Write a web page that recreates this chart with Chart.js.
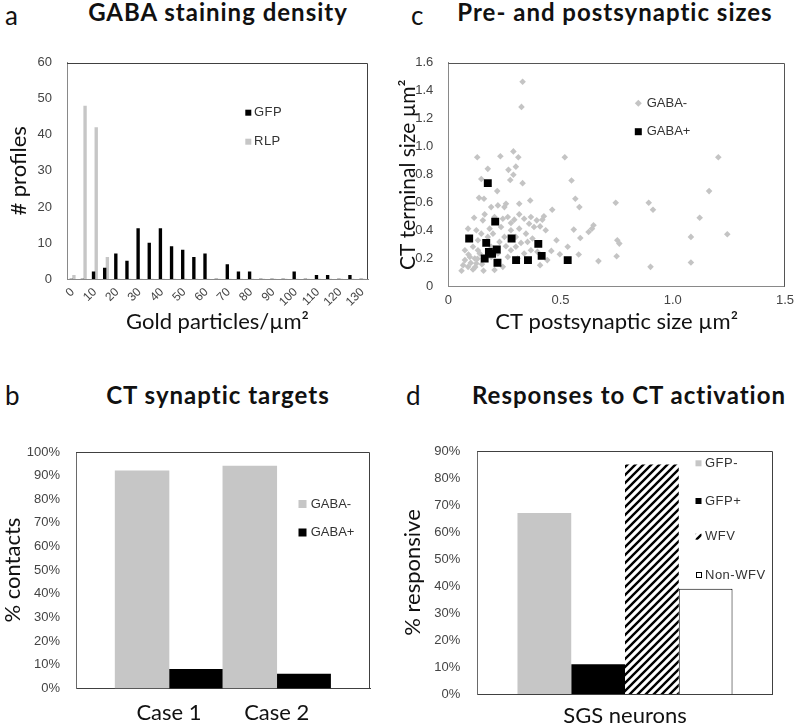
<!DOCTYPE html>
<html>
<head>
<meta charset="utf-8">
<script src="https://cdn.jsdelivr.net/npm/chart.js@4.4.1/dist/chart.umd.min.js"></script>
<style>
  html, body { margin:0; padding:0; background:#fff; }
  #page { position:relative; width:800px; height:723px; overflow:hidden; background:#fff; }
  canvas { position:absolute; }
  .lt { position:absolute; font:26px Lato, sans-serif; line-height:26px; color:#111; }
  .tt { position:absolute; font:bold 24px Lato, sans-serif; letter-spacing:1px; line-height:24px; color:#111; white-space:nowrap; transform:translateX(-50%); }
</style>
</head>
<body>
<div id="page">
  <div class="lt" style="left:5px;top:2px">a</div>
  <div class="tt" style="left:218px;top:0px">GABA staining density</div>
  <div class="lt" style="left:411px;top:2px">c</div>
  <div class="tt" style="left:615px;top:0px">Pre- and postsynaptic sizes</div>
  <div class="lt" style="left:5px;top:382px">b</div>
  <div class="tt" style="left:218px;top:383px">CT synaptic targets</div>
  <div class="lt" style="left:406px;top:382px">d</div>
  <div class="tt" style="left:629px;top:383px">Responses to CT activation</div>
  <canvas id="ca" width="400" height="300" style="left:0;top:40px"></canvas>
  <canvas id="cc" width="404" height="300" style="left:396px;top:40px"></canvas>
  <canvas id="cb" width="400" height="343" style="left:0;top:380px"></canvas>
  <canvas id="cd" width="400" height="343" style="left:400px;top:380px"></canvas>
</div>
<script>
// ---------- Panel a: GABA staining density histogram ----------
const histBins = [0,5,10,15,20,25,30,35,40,45,50,55,60,65,70,75,80,85,90,95,100,105,110,115,120,125,130];
const gfpCounts = [0,0,2,3,7,5,14,10,14,9,8,6,7,0,4,2,2,0,0,0,2,0,1,1,0,1,0];
const rlpCounts = [1,48,42,6,0,0,0,0,0,0,0,0,0,0,0,0,0,0,0,0,0,0,0,0,0,0,0];
const histYTicks = [0,10,20,30,40,50,60];

// ---------- Panel c: pre- and postsynaptic sizes ----------
const gabaNegX = [0.331,0.326,0.129,0.232,0.29,0.312,0.519,1.203,0.176,0.268,
  0.301,0.29,0.276,0.331,0.147,0.549,1.162,0.218,0.137,0.159,
  0.365,0.566,0.584,0.746,0.893,0.912,1.12,1.243,1.081,1.081,
  0.901,0.753,0.762,0.75,0.669,0.581,0.559,0.588,0.625,0.647,
  0.64,0.532,0.497,0.482,0.459,0.463,0.426,0.419,0.434,0.409,
  0.394,0.368,0.36,0.338,0.316,0.294,0.279,0.265,0.25,0.257,
  0.221,0.191,0.162,0.115,0.125,0.088,0.154,0.184,0.235,0.279,
  0.316,0.346,0.375,0.353,0.324,0.301,0.257,0.25,0.228,0.132,
  0.11,0.074,0.132,0.176,0.199,0.074,0.096,0.118,0.066,0.088,
  0.059,0.11,0.125,0.157,0.206,0.243,0.265,0.309,0.338,0.368,
  0.397,0.409,0.441,0.14,0.191,0.221,0.191,0.279,0.147,0.382,
  0.243,0.316,0.206,0.301,0.10,0.13,0.09,0.15,0.12,0.17];
const gabaNegY = [1.465,1.285,0.925,0.932,0.967,0.925,0.925,0.925,0.842,0.835,
  0.858,0.80,0.763,0.74,0.77,0.759,0.683,0.683,0.635,0.628,
  0.616,0.628,0.569,0.60,0.60,0.55,0.493,0.375,0.356,0.173,
  0.142,0.332,0.308,0.218,0.183,0.23,0.408,0.348,0.391,0.439,
  0.415,0.285,0.232,0.332,0.256,0.55,0.503,0.479,0.403,0.431,
  0.474,0.498,0.45,0.486,0.517,0.479,0.455,0.498,0.569,0.593,
  0.581,0.569,0.517,0.493,0.403,0.415,0.474,0.415,0.427,0.403,
  0.415,0.379,0.344,0.32,0.313,0.285,0.289,0.356,0.32,0.332,
  0.285,0.261,0.261,0.356,0.379,0.19,0.213,0.201,0.154,0.142,
  0.114,0.123,0.166,0.114,0.119,0.142,0.213,0.201,0.237,0.261,
  0.249,0.154,0.19,0.237,0.213,0.237,0.285,0.261,0.379,0.427,
  0.486,0.593,0.498,0.356,0.17,0.20,0.23,0.16,0.14,0.21];
const gabaPosX = [0.093,0.176,0.209,0.169,0.216,0.181,0.162,0.219,0.282,0.401,0.416,0.302,0.355,0.532,0.195];
const gabaPosY = [0.344,0.74,0.465,0.313,0.266,0.249,0.202,0.171,0.344,0.306,0.22,0.19,0.19,0.19,0.235];

// ---------- Panel b: CT synaptic targets ----------
const targetCases = ['Case 1', 'Case 2'];
const gabaNegPct = [92, 94];
const gabaPosPct = [8, 6];

// ---------- Panel d: responses to CT activation ----------
const responseGroups = ['SGS neurons'];
const gfpNegPct = [67];
const gfpPosPct = [11];
const wfvPct = [85];
const nonWfvPct = [39];

// ---------- styling ----------
const GRAY = '#c6c6c6';
const TICK = '#444';
const TITLE = '#111';
Chart.defaults.font.family = '"Liberation Sans", Arial, sans-serif';
Chart.defaults.font.size = 13;
Chart.defaults.color = TICK;
Chart.defaults.animation = false;
Chart.defaults.plugins.legend.display = false;
Chart.defaults.plugins.tooltip.enabled = false;

const framePlugin = {
  id: 'frame',
  afterDraw(chart, args, o) {
    const {ctx, chartArea: a} = chart;
    ctx.save();
    ctx.lineWidth = 1;
    ctx.strokeStyle = o.color || '#404040';
    ctx.beginPath();
    ctx.moveTo(a.left, Math.round(a.top) + 0.5);
    ctx.lineTo(Math.round(a.right) - 0.5, Math.round(a.top) + 0.5);
    ctx.lineTo(Math.round(a.right) - 0.5, a.bottom);
    ctx.stroke();
    ctx.restore();
  }
};

const boxLegend = {
  id: 'boxLegend',
  afterDraw(chart, args, o) {
    if (!o.items) return;
    const ctx = chart.ctx;
    ctx.save();
    ctx.font = o.font || '13px "Liberation Sans", Arial, sans-serif';
    if ('letterSpacing' in ctx) ctx.letterSpacing = o.spacing || '0px';
    ctx.textBaseline = 'middle';
    o.items.forEach(it => {
      const ds = chart.data.datasets[it.ds];
      const s = it.size || 6;
      ctx.fillStyle = ds.backgroundColor;
      if (it.shape === 'diamond') {
        ctx.beginPath();
        ctx.moveTo(it.x, it.y - s/2); ctx.lineTo(it.x + s/2, it.y);
        ctx.lineTo(it.x, it.y + s/2); ctx.lineTo(it.x - s/2, it.y);
        ctx.closePath(); ctx.fill();
      } else {
        ctx.fillRect(it.x - s/2, it.y - s/2, s, s);
        if (ds.borderWidth) {
          ctx.strokeStyle = ds.borderColor; ctx.lineWidth = 1;
          ctx.strokeRect(Math.round(it.x - s/2) + 0.5, Math.round(it.y - s/2) + 0.5, s - 1, s - 1);
        }
      }
      ctx.fillStyle = o.color || '#333';
      ctx.fillText(ds.label, o.textX, it.y);
    });
    ctx.restore();
  }
};

function fixW(w) { return s => { s.width = w; }; }
function fixH(h) { return s => { s.height = h; }; }
const axTitle = (text, size, pad) => ({ display: true, text, color: TITLE,
  font: { family: 'Lato, sans-serif', size }, padding: pad });

// ---------- Chart a ----------
new Chart(document.getElementById('ca'), {
  type: 'bar',
  plugins: [framePlugin, boxLegend],
  data: {
    labels: histBins.map(String),
    datasets: [
      { label: 'GFP', data: gfpCounts, backgroundColor: '#000', barThickness: 2.7 },
      { label: 'RLP', data: rlpCounts, backgroundColor: GRAY, barThickness: 2.7 }
    ]
  },
  options: {
    responsive: false,
    layout: { padding: { top: 22, right: 32, bottom: 0, left: 0 } },
    scales: {
      x: {
        grid: { display: false, drawTicks: false },
        border: { color: '#898989' },
        ticks: { autoSkip: false, minRotation: 45, maxRotation: 45, padding: 6,
          font: { size: 12 },
          callback: (v, i) => histBins[i] % 10 === 0 ? String(histBins[i]) : '' },
        title: axTitle('Gold particles/µm²', 22, { top: 0, bottom: 5 }),
        afterFit: fixH(61)
      },
      y: {
        min: 0, max: 60,
        grid: { display: false, drawTicks: false },
        border: { color: '#898989' },
        afterBuildTicks: s => { s.ticks = histYTicks.map(v => ({ value: v })); },
        ticks: { padding: 15 },
        title: axTitle('# profiles', 22, { top: 6, bottom: 0 }),
        afterFit: fixW(67)
      }
    },
    plugins: {
      boxLegend: { textX: 254, font: '13px "Liberation Sans", Arial, sans-serif', spacing: '0.5px',
        items: [ { ds: 0, x: 248.3, y: 72.7, size: 6 }, { ds: 1, x: 248.3, y: 101.7, size: 6 } ] }
    }
  }
});

// ---------- Chart c ----------
new Chart(document.getElementById('cc'), {
  type: 'scatter',
  plugins: [framePlugin, boxLegend],
  data: {
    datasets: [
      { label: 'GABA-', order: 2, data: gabaNegX.map((x, i) => ({ x, y: gabaNegY[i] })),
        backgroundColor: '#c4c4c4', borderWidth: 0, pointStyle: 'rectRot', pointRadius: 3.3 },
      { label: 'GABA+', order: 1, data: gabaPosX.map((x, i) => ({ x, y: gabaPosY[i] })),
        backgroundColor: '#000', borderWidth: 0, pointStyle: 'rect', pointRadius: 5.6 }
    ]
  },
  options: {
    responsive: false,
    layout: { padding: { top: 22, right: 11, bottom: 0, left: 0 } },
    scales: {
      x: {
        type: 'linear', min: 0, max: 1.5,
        grid: { display: false, drawTicks: false },
        border: { color: '#898989' },
        ticks: { stepSize: 0.5, padding: 6 },
        title: axTitle('CT postsynaptic size µm²', 22, { top: 0, bottom: 5 }),
        afterFit: fixH(53.3)
      },
      y: {
        min: 0, max: 1.6,
        grid: { display: false, drawTicks: false },
        border: { color: '#898989' },
        ticks: { stepSize: 0.2, padding: 15 },
        title: axTitle('CT terminal size µm²', 21, { top: 0, bottom: 0 }),
        afterFit: fixW(52.3)
      }
    },
    plugins: {
      frame: { color: '#555' },
      boxLegend: { textX: 250.7, font: '13px "Liberation Sans", Arial, sans-serif',
        items: [ { ds: 0, x: 242.3, y: 63.3, size: 7, shape: 'diamond' }, { ds: 1, x: 242.3, y: 91.7, size: 7 } ] }
    }
  }
});

// ---------- Chart b ----------
new Chart(document.getElementById('cb'), {
  type: 'bar',
  plugins: [framePlugin, boxLegend],
  data: {
    datasets: [
      { label: 'GABA-', data: targetCases.map((c, i) => ({ x: i, y: gabaNegPct[i] })), backgroundColor: GRAY },
      { label: 'GABA+', data: targetCases.map((c, i) => ({ x: i, y: gabaPosPct[i] })), backgroundColor: '#000' }
    ]
  },
  options: {
    responsive: false,
    categoryPercentage: 1, barPercentage: 1,
    layout: { padding: { top: 72, right: 30, bottom: 0, left: 0 } },
    scales: {
      x: {
        type: 'linear', min: -0.8635, max: 1.866, offset: false,
        grid: { display: false, drawTicks: false, offset: false },
        border: { color: '#404040' },
        afterBuildTicks: s => { s.ticks = targetCases.map((c, i) => ({ value: i })); },
        ticks: { padding: 11, color: TITLE, font: { family: 'Lato, sans-serif', size: 22 },
          callback: v => targetCases[v] },
        afterFit: fixH(34.7)
      },
      y: {
        min: 0, max: 100,
        grid: { display: false, drawTicks: false },
        border: { color: '#6a6a6a' },
        ticks: { stepSize: 10, padding: 16, callback: v => v + '%' },
        title: axTitle('% contacts', 22, { top: 0, bottom: 0 }),
        afterFit: fixW(76)
      }
    },
    plugins: {
      boxLegend: { textX: 310.7, font: '13px "Liberation Sans", Arial, sans-serif',
        items: [ { ds: 0, x: 302.5, y: 124, size: 8 }, { ds: 1, x: 302.5, y: 152.5, size: 8 } ] }
    }
  }
});

// ---------- Chart d ----------
const dctx = document.getElementById('cd').getContext('2d');
function hatchPattern() {
  const t = document.createElement('canvas');
  t.width = 8; t.height = 8;
  const g = t.getContext('2d');
  g.fillStyle = '#fff'; g.fillRect(0, 0, 8, 8);
  g.strokeStyle = '#000'; g.lineWidth = 2.4;
  g.beginPath();
  g.moveTo(-2, 10); g.lineTo(10, -2);
  g.moveTo(-2, 2); g.lineTo(2, -2);
  g.moveTo(6, 10); g.lineTo(10, 6);
  g.stroke();
  return dctx.createPattern(t, 'repeat');
}
new Chart(dctx, {
  type: 'bar',
  plugins: [framePlugin, boxLegend],
  data: {
    labels: responseGroups,
    datasets: [
      { label: 'GFP-', data: gfpNegPct, backgroundColor: GRAY },
      { label: 'GFP+', data: gfpPosPct, backgroundColor: '#000' },
      { label: 'WFV', data: wfvPct, backgroundColor: hatchPattern() },
      { label: 'Non-WFV', data: nonWfvPct, backgroundColor: '#fff', borderColor: '#000', borderWidth: 1 }
    ]
  },
  options: {
    responsive: false,
    categoryPercentage: 0.728, barPercentage: 1,
    layout: { padding: { top: 71, right: 27.3, bottom: 0, left: 0 } },
    scales: {
      x: {
        grid: { display: false, drawTicks: false },
        border: { color: '#404040' },
        ticks: { padding: 9, color: TITLE, font: { family: 'Lato, sans-serif', size: 22 } },
        afterFit: fixH(29)
      },
      y: {
        min: 0, max: 90,
        grid: { display: false, drawTicks: false },
        border: { color: '#6a6a6a' },
        ticks: { stepSize: 10, padding: 17, callback: v => v + '%' },
        title: axTitle('% responsive', 22, { top: 0, bottom: 0 }),
        afterFit: fixW(77.3)
      }
    },
    plugins: {
      boxLegend: { textX: 305, font: '13px "Liberation Sans", Arial, sans-serif', spacing: '0.5px',
        items: [ { ds: 0, x: 298.5, y: 83.3, size: 6 }, { ds: 1, x: 298.5, y: 121, size: 6 },
                 { ds: 2, x: 298.5, y: 156.7, size: 6 }, { ds: 3, x: 298.5, y: 195, size: 6 } ] }
    }
  }
});
</script>
</body>
</html>
